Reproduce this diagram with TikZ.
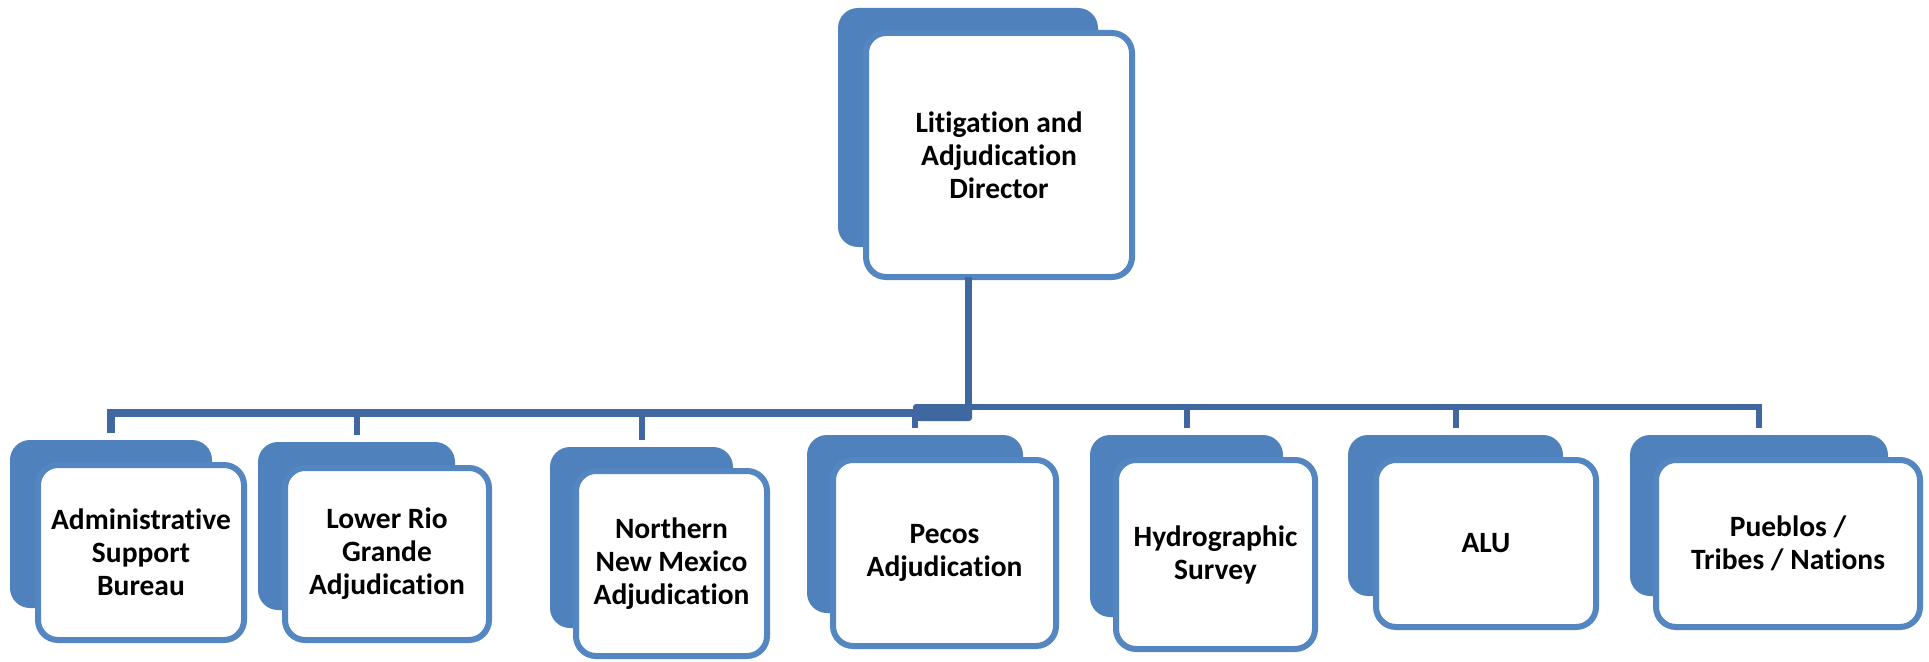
\documentclass[tikz,border=0pt]{standalone}
\usepackage{fontspec}
\setmainfont{Carlito}[Ligatures=NoCommon]
\usetikzlibrary{calc}
\definecolor{backblue}{RGB}{79,129,189}
\definecolor{edgeblue}{RGB}{84,134,194}
\definecolor{linkblue}{RGB}{64,104,160}
\begin{document}
\begin{tikzpicture}[x=1pt,y=-1pt,
  backbox/.style n args={4}{fill=backblue, draw=none, rounded corners=20pt,
    inner sep=0pt, outer sep=0pt, at={({(#1+#3)/2},{(#2+#4)/2})},
    minimum width={(#3-#1)*1pt}, minimum height={(#4-#2)*1pt}},
  frontbox/.style n args={4}{fill=white, draw=edgeblue, line width=6pt, rounded corners=20pt,
    inner sep=0pt, outer sep=0pt, align=center, text=black,
    font=\fontsize{29.5}{33}\selectfont\bfseries,
    at={({(#1+#3)/2},{(#2+#4)/2})},
    minimum width={(#3-#1-6)*1pt}, minimum height={(#4-#2-6)*1pt}},
  link/.style={draw=linkblue, line width=6pt},
]
\fill[white] (0,0) rectangle (1929,661);
\useasboundingbox (0,0) rectangle (1929,661);

% boxes
\node[backbox={838}{8}{1098}{247}] (dirB) {};
\node[frontbox={863}{30}{1135}{280}] (dir) {Litigation and\\Adjudication\\Director};

\node[backbox={10}{440}{212}{608}] (admB) {};
\node[frontbox={35}{462}{247}{643}] (adm) {Administrative\\Support\\Bureau};

\node[backbox={258}{442}{455}{610}] (lrgB) {};
\node[frontbox={282}{465}{492}{643}] (lrg) {Lower Rio\\Grande\\Adjudication};

\node[backbox={550}{447}{733}{628}] (nnmB) {};
\node[frontbox={573}{468}{770}{659}] (nnm) {Northern\\New Mexico\\Adjudication};

\node[backbox={807}{435}{1023}{613}] (pecB) {};
\node[frontbox={830}{457}{1059}{649}] (pec) {Pecos\\Adjudication};

\node[backbox={1090}{435}{1283}{617}] (hydB) {};
\node[frontbox={1113}{457}{1318}{652}] (hyd) {Hydrographic\\Survey};

\node[backbox={1348}{435}{1563}{596}] (aluB) {};
\node[frontbox={1373}{457}{1599}{630}] (alu) {ALU};

\node[backbox={1630}{435}{1888}{596}] (pueB) {};
\node[frontbox={1653}{457}{1923}{630}] (pue) {Pueblos /\\Tribes / Nations};

% connectors
\coordinate (busR) at (968,407);
\coordinate (busL) at (913,413);
\draw[link, line width=7pt] (dirB.north |- dir.south) -- (busR);
\draw[link] (busR) -| ($(pueB.north)+(0,-7)$);
\draw[link] (hydB.north |- busR) -- ($(hydB.north)+(0,-7)$);
\draw[link] (aluB.north |- busR) -- ($(aluB.north)+(0,-7)$);
\draw[link, line width=8pt] ($(admB.north)+(0,-7)$) |- (busL);
\draw[link] (lrgB.north |- busL) -- ($(lrgB.north)+(0,-7)$);
\draw[link] (nnmB.north |- busL) -- ($(nnmB.north)+(0,-7)$);
\fill[linkblue, rounded corners=3pt] (913,404) rectangle (972,421);
\draw[link] (pecB.north |- busL) -- ($(pecB.north)+(0,-7)$);
\end{tikzpicture}
\end{document}
